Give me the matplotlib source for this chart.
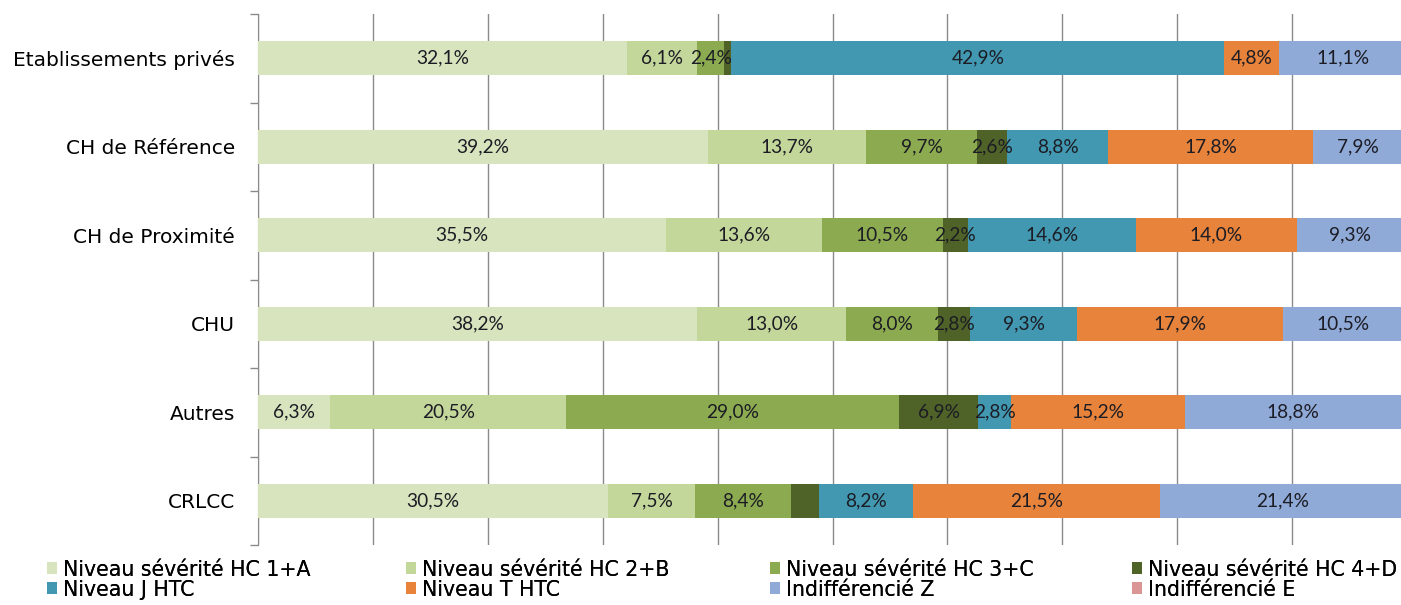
import matplotlib
matplotlib.use("Agg")
import matplotlib.pyplot as plt
from matplotlib.patches import Patch
from matplotlib import font_manager as fm
from matplotlib.ticker import FixedLocator, NullFormatter

categories = ["Etablissements privés", "CH de Référence", "CH de Proximité",
              "CHU", "Autres", "CRLCC"]
series_names = ["Niveau sévérité HC 1+A", "Niveau sévérité HC 2+B",
                "Niveau sévérité HC 3+C", "Niveau sévérité HC 4+D",
                "Niveau J HTC", "Niveau T HTC", "Indifférencié Z", "Indifférencié E"]
hc1a = [32.1, 39.2, 35.5, 38.2, 6.3, 30.5]
hc2b = [6.1, 13.7, 13.6, 13.0, 20.5, 7.5]
hc3c = [2.4, 9.7, 10.5, 8.0, 29.0, 8.4]
hc4d = [0.6, 2.6, 2.2, 2.8, 6.9, 2.4]
j_htc = [42.9, 8.8, 14.6, 9.3, 2.8, 8.2]
t_htc = [4.8, 17.8, 14.0, 17.9, 15.2, 21.5]
ind_z = [11.1, 7.9, 9.3, 10.5, 18.8, 21.4]
ind_e = [0.0, 0.0, 0.0, 0.0, 0.0, 0.0]
series = [hc1a, hc2b, hc3c, hc4d, j_htc, t_htc, ind_z, ind_e]
# segments whose value label is not shown in the original (category, series index)
unlabelled = {(0, 3), (5, 3)}

colors = ["#d7e4bd", "#c4d79b", "#8cab50", "#4f6228",
          "#4198b0", "#e7833b", "#90aad8", "#d99694"]

avail = {f.name for f in fm.fontManager.ttflist}
label_font = "Lato" if "Lato" in avail else "DejaVu Sans"
text_font = "DejaVu Sans"

W, H = 1401, 605
fig = plt.figure(figsize=(W / 100, H / 100), dpi=100)
x0, x100 = 258, 1407
ytop, ybot = 14, 545
ax = fig.add_axes([x0 / W, 1 - ybot / H, (x100 - x0) / W, (ybot - ytop) / H])

ypos = list(range(len(categories)))
left = [0.0] * len(categories)
for si, vals in enumerate(series):
    ax.barh(ypos, vals, left=left, height=0.38, color=colors[si],
            edgecolor="none", zorder=3)
    for ci, v in enumerate(vals):
        if v <= 0 or (ci, si) in unlabelled:
            continue
        ax.text(left[ci] + v / 2, ci, f"{v:.1f}%".replace(".", ","),
                ha="center", va="center", fontsize=13.8, color="#1c1c24",
                family=label_font, zorder=4)
    left = [l + v for l, v in zip(left, vals)]

ax.set_xlim(0, 100)
ax.set_ylim(len(categories) - 0.5, -0.5)
ax.xaxis.set_major_locator(FixedLocator(list(range(0, 101, 10))))
ax.tick_params(axis="x", length=0, labelbottom=False)
ax.grid(axis="x", color="#8a8a8a", linewidth=1.0, zorder=0)
ax.yaxis.set_major_locator(FixedLocator([i - 0.5 for i in range(len(categories) + 1)]))
ax.yaxis.set_major_formatter(NullFormatter())
ax.yaxis.set_minor_locator(FixedLocator(ypos))
ax.set_yticklabels(categories, minor=True, fontsize=14.5, family=text_font)
ax.tick_params(axis="y", which="major", length=6, color="#8a8a8a", width=1)
ax.tick_params(axis="y", which="minor", length=0, pad=16.5)
for s in ["top", "right", "bottom"]:
    ax.spines[s].set_visible(False)
ax.spines["left"].set_color("#8a8a8a")

handles = [Patch(facecolor=c, edgecolor="none") for c in colors]
col_x = [47, 406, 770, 1132]
leg_y = 1 - 579.5 / H
for k, cx in enumerate(col_x):
    idx = [k, k + 4]
    leg = fig.legend([handles[i] for i in idx], [series_names[i] for i in idx],
                     loc="center left", bbox_to_anchor=(cx / W, leg_y),
                     frameon=False, prop={"family": text_font, "size": 14.8},
                     handlelength=0.48, handleheight=0.48, handletextpad=0.3,
                     labelspacing=0.0, borderaxespad=0, borderpad=0)
    fig.add_artist(leg)

fig.savefig("out.png", dpi=100)
